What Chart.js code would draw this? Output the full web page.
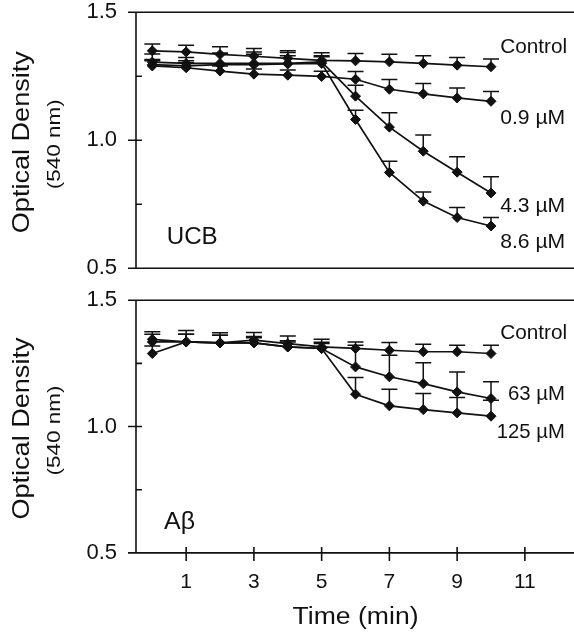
<!DOCTYPE html>
<html><head><meta charset="utf-8">
<script src="https://cdn.jsdelivr.net/npm/chart.js@4.4.0/dist/chart.umd.min.js"></script>
<style>
html,body{margin:0;padding:0;background:#fff;overflow:hidden;width:574px;height:636px;}
.wrap{position:absolute;left:0;width:574px;}
#w1{top:-10px;height:300px;}
#w2{top:280px;height:356px;}
</style></head><body>
<div class="wrap" id="w1"><canvas id="c1"></canvas></div>
<div class="wrap" id="w2"><canvas id="c2"></canvas></div>
<script>
// ---------- data ----------
const times = [0,1,2,3,4,5,6,7,8,9,10];

const ucbControl    = [1.349,1.345,1.335,1.328,1.320,1.312,1.310,1.306,1.300,1.293,1.287];
const ucbControlErr = [0.027,0.026,0.030,0.030,0.029,0.030,0.029,0.030,0.030,0.030,0.030];
const ucb09         = [1.290,1.283,1.270,1.258,1.254,1.249,1.238,1.199,1.181,1.165,1.152];
const ucb09Err      = [0.020,0.020,0.020,0.020,0.020,0.020,0.030,0.038,0.040,0.039,0.038];
const ucb43         = [1.305,1.300,1.300,1.300,1.300,1.306,1.172,1.051,0.957,0.875,0.794];
const ucb43Err      = [0.032,0.023,0.040,0.036,0.030,0.020,0.043,0.056,0.063,0.060,0.063];
const ucb86         = [1.295,1.290,1.295,1.295,1.298,1.300,1.081,0.874,0.762,0.698,0.665];
const ucb86Err      = [0.020,0.020,0.045,0.050,0.045,0.030,0.036,0.044,0.036,0.039,0.033];

const abControl     = [1.345,1.335,1.331,1.342,1.328,1.315,1.309,1.302,1.296,1.296,1.289];
const abControlErr  = [0.030,0.045,0.040,0.030,0.030,0.030,0.026,0.031,0.030,0.026,0.033];
const ab63          = [1.335,1.335,1.331,1.331,1.315,1.309,1.236,1.197,1.170,1.137,1.111];
const ab63Err       = [0.030,0.030,0.030,0.025,0.025,0.025,0.086,0.085,0.082,0.079,0.066];
const ab125         = [1.289,1.335,1.331,1.331,1.315,1.309,1.128,1.082,1.067,1.054,1.041];
const ab125Err      = [0.030,0.030,0.030,0.020,0.020,0.020,0.066,0.066,0.064,0.061,0.063];

const yTickValues = [0.5, 1.0, 1.5];
const yMinorTicks = [0.75, 1.25];
const xTickValues = [1, 3, 5, 7, 9, 11];
const xTickLabels = ['1', '3', '5', '7', '9', '11'];

const ucbLabels = ['Control', '0.9 \u00b5M', '4.3 \u00b5M', '8.6 \u00b5M'];
const abLabels  = ['Control', '63 \u00b5M', '125 \u00b5M'];
const ucbPanelName = 'UCB';
const abPanelName  = 'A\u03b2';
const yTitle1 = 'Optical Density';
const yTitle2 = '(540 nm)';
const xTitle  = 'Time (min)';

// ---------- helpers ----------
const FONT = '"Liberation Sans", Arial, Helvetica, sans-serif';
const INK = '#111';
// page geometry of the reference
const X0_PX = 152.3, PX_PER_MIN = 33.87;

function pts(vals){ return times.map((t,i)=>({x:t, y:vals[i]})); }
function ds(label, vals, errs){
  return { label, data: pts(vals), errors: errs,
    borderColor: INK, backgroundColor: INK, borderWidth: 1.7,
    pointStyle: 'rectRot', pointRadius: 5, pointBorderWidth: 1,
    pointBackgroundColor: INK, pointBorderColor: INK, tension: 0, fill: false };
}
function stretchText(ctx, text, x, y, px, targetW, align, rot){
  ctx.save();
  ctx.font = px + 'px ' + FONT;
  const w = ctx.measureText(text).width;
  const s = targetW ? targetW / w : 1;
  ctx.translate(x, y);
  if (rot) ctx.rotate(rot);
  ctx.scale(s, 1);
  ctx.textAlign = align || 'left';
  ctx.textBaseline = 'alphabetic';
  ctx.fillStyle = INK;
  ctx.fillText(text, 0, 0);
  ctx.restore();
}

const errorBars = {
  id: 'errorBars',
  afterDatasetsDraw(chart){
    const ctx = chart.ctx, xs = chart.scales.x, ys = chart.scales.y;
    ctx.save();
    ctx.strokeStyle = INK; ctx.lineWidth = 1.5;
    chart.data.datasets.forEach(d => {
      d.data.forEach((p, i) => {
        const e = d.errors[i];
        const px = xs.getPixelForValue(p.x);
        const y0 = ys.getPixelForValue(p.y);
        const y1 = ys.getPixelForValue(p.y + e);
        ctx.beginPath();
        ctx.moveTo(px, y0); ctx.lineTo(px, y1);
        ctx.moveTo(px - 8, y1); ctx.lineTo(px + 8, y1);
        ctx.stroke();
      });
    });
    ctx.restore();
  }
};

const frame = {
  id: 'frame',
  afterDraw(chart, args, opts){
    const ctx = chart.ctx, a = chart.chartArea, ys = chart.scales.y, xs = chart.scales.x;
    const W = chart.width;
    ctx.save();
    ctx.strokeStyle = INK; ctx.lineWidth = 1.6;
    ctx.beginPath();
    ctx.moveTo(a.left, a.top); ctx.lineTo(a.left, a.bottom);
    ctx.moveTo(a.left - 8, a.top); ctx.lineTo(W, a.top);
    ctx.moveTo(a.left - 8, a.bottom); ctx.lineTo(W, a.bottom);
    yTickValues.forEach(v => { const y = ys.getPixelForValue(v); ctx.moveTo(a.left - 8, y); ctx.lineTo(a.left + 6, y); });
    yMinorTicks.forEach(v => { const y = ys.getPixelForValue(v); ctx.moveTo(a.left, y); ctx.lineTo(a.left + 6, y); });
    if (opts.xTicks) {
      xTickValues.forEach(v => { const x = xs.getPixelForValue(v); ctx.moveTo(x, a.bottom - 6); ctx.lineTo(x, a.bottom + 8); });
    }
    ctx.stroke();
    ctx.restore();

    const cy = (a.top + a.bottom) / 2 + 2;
    stretchText(ctx, yTitle1, 28.5, cy, 24, 182, 'center', -Math.PI/2);
    stretchText(ctx, yTitle2, 60, cy + 2, 18, 90, 'center', -Math.PI/2);

    (opts.labels || []).forEach(l => {
      stretchText(ctx, l.text, xs.getPixelForValue(l.x), ys.getPixelForValue(l.y), l.size, l.w, 'left', 0);
    });
    if (opts.xTitle) {
      stretchText(ctx, xTitle, xs.getPixelForValue(6), a.bottom + 70.6, 23, 126, 'center', 0);
    }
  }
};

function makeChart(id, datasets, opts){
  return new Chart(document.getElementById(id), {
    type: 'line',
    data: { datasets },
    plugins: [errorBars, frame],
    options: {
      responsive: true, maintainAspectRatio: false, animation: false,
      layout: { padding: opts.padding },
      plugins: { legend: { display: false }, tooltip: { enabled: false }, frame: opts.frame },
      scales: {
        x: {
          type: 'linear', min: -0.48, max: 12.45, display: opts.showX,
          afterBuildTicks: s => { s.ticks = xTickValues.map(v => ({ value: v })); },
          afterFit: s => { if (opts.showX) s.height = opts.xHeight; },
          grid: { display: false, drawTicks: false },
          border: { display: false },
          ticks: { autoSkip: false, maxRotation: 0, padding: 17, color: INK,
            font: { family: FONT, size: 21 },
            callback: (v, i) => xTickLabels[i] }
        },
        y: {
          type: 'linear', min: 0.5, max: 1.5,
          afterBuildTicks: s => { s.ticks = yTickValues.map(v => ({ value: v })); },
          afterFit: s => { s.width = 136; },
          grid: { display: false, drawTicks: false },
          border: { display: false },
          ticks: { padding: 19, color: INK, font: { family: FONT, size: 22 },
            callback: v => Number(v).toFixed(1) }
        }
      }
    }
  });
}

// place the plot area at the reference's page position
function place(chart, wrapId, topPx, bottomPx){
  const wrap = document.getElementById(wrapId);
  const a = chart.chartArea;
  const T = a.top, B = chart.height - a.bottom;
  wrap.style.top = (topPx - T) + 'px';
  wrap.style.height = (bottomPx - topPx + T + B) + 'px';
  chart.options.scales.x.min = (a.left - X0_PX) / PX_PER_MIN;
  chart.options.scales.x.max = (a.right - X0_PX) / PX_PER_MIN;
  chart.resize();
  chart.update('none');
}

const c1 = makeChart('c1', [
  ds(ucbLabels[0], ucbControl, ucbControlErr),
  ds(ucbLabels[1], ucb09, ucb09Err),
  ds(ucbLabels[2], ucb43, ucb43Err),
  ds(ucbLabels[3], ucb86, ucb86Err)
], {
  padding: { top: 14, bottom: 14, left: 0, right: 0 }, showX: false,
  frame: { xTicks: false, xTitle: false, labels: [
    { text: ucbLabels[0], x: 10.27, y: 1.340, size: 21, w: 67 },
    { text: ucbLabels[1], x: 10.27, y: 1.065, size: 21, w: 65 },
    { text: ucbLabels[2], x: 10.27, y: 0.720, size: 21, w: 65 },
    { text: ucbLabels[3], x: 10.27, y: 0.577, size: 21, w: 65 },
    { text: ucbPanelName, x: 0.425, y: 0.594, size: 23, w: 51 }
  ]}
});

const c2 = makeChart('c2', [
  ds(abLabels[0], abControl, abControlErr),
  ds(abLabels[1], ab63, ab63Err),
  ds(abLabels[2], ab125, ab125Err)
], {
  padding: { top: 12, bottom: 0, left: 0, right: 0 }, showX: true, xHeight: 83.3,
  frame: { xTicks: true, xTitle: true, labels: [
    { text: abLabels[0], x: 10.27, y: 1.348, size: 21, w: 67 },
    { text: abLabels[1], x: 10.50, y: 1.107, size: 21, w: 57 },
    { text: abLabels[2], x: 10.17, y: 0.953, size: 21, w: 68 },
    { text: abPanelName, x: 0.345, y: 0.594, size: 23, w: 31 }
  ]}
});

place(c1, 'w1', 12, 268);
place(c2, 'w2', 300, 552.7);
</script>
</body></html>
